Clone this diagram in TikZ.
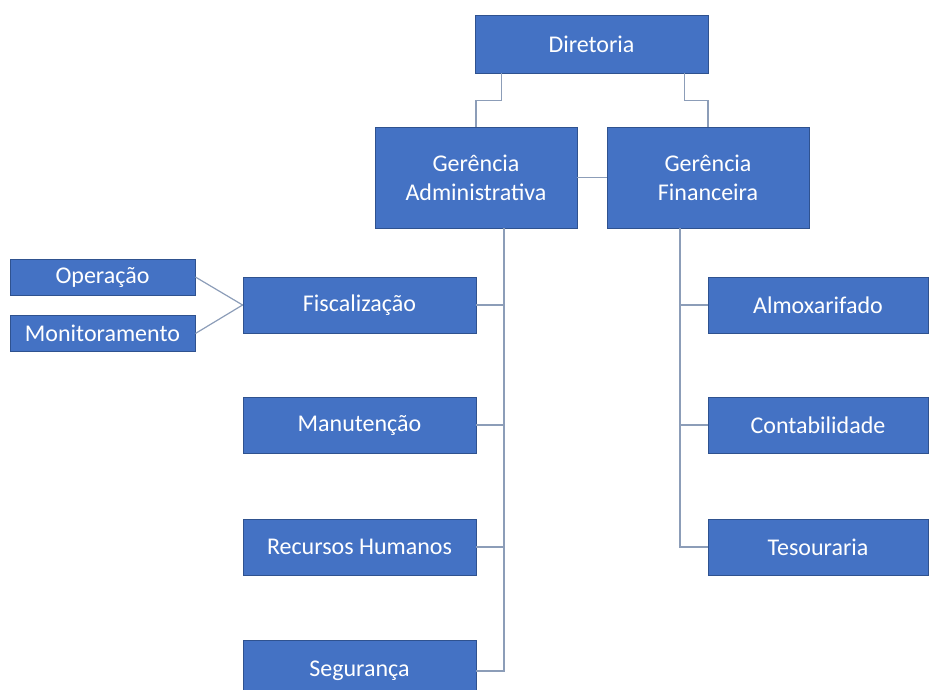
\documentclass[tikz,border=0pt]{standalone}
\usepackage{fontspec}
\setmainfont{Carlito}
\definecolor{boxblue}{HTML}{4472C4}
\definecolor{boxline}{HTML}{2F528F}
\definecolor{linkgray}{HTML}{8C9DB8}
\tikzset{
  unit/.style={draw=boxline, fill=boxblue, text=white, line width=0.8pt,
    inner sep=0pt, align=center, font=\fontsize{24}{29}\selectfont},
  link/.style={draw=linkgray, line width=1.2pt}
}
\begin{document}
\begin{tikzpicture}[x=1pt,y=-1pt]
\useasboundingbox (0,0) rectangle (929,690);
\pgfmathsetmacro{\wl}{233}
\pgfmathsetmacro{\hl}{56}
% top levels
\node[unit, minimum width=233, minimum height=58] (dir) at (591.5,44) {Diretoria};
\node[unit, minimum width=202, minimum height=101] (gadm) at (476,177.5) {Ger\^encia\\Administrativa};
\node[unit, minimum width=202, minimum height=101] (gfin) at (708,177.5) {Ger\^encia\\Financeira};
% administrativa
\node[unit, minimum width=\wl, minimum height=\hl] (fisc) at (359.5,305) {Fiscaliza\c{c}\~ao};
\node[unit, minimum width=\wl, minimum height=\hl] (manu) at (359.5,425) {Manuten\c{c}\~ao};
\node[unit, minimum width=\wl, minimum height=\hl] (rh) at (359.5,547) {Recursos Humanos};
\node[unit, minimum width=\wl, minimum height=62] (seg) at (359.5,671) {Seguran\c{c}a};
\node[unit, minimum width=185, minimum height=36] (op) at (102.5,277) {Opera\c{c}\~ao};
\node[unit, minimum width=185, minimum height=36] (mon) at (102.5,333.5) {Monitoramento};
% financeira
\node[unit, minimum width=220, minimum height=\hl] (almox) at (818,305) {Almoxarifado};
\node[unit, minimum width=220, minimum height=\hl] (cont) at (818,425) {Contabilidade};
\node[unit, minimum width=220, minimum height=\hl] (tes) at (818,547) {Tesouraria};
% connectors
\draw[link] ([xshift=27pt]dir.south west) -- ++(0,27) -| (gadm.north);
\draw[link] ([xshift=-24pt]dir.south east) -- ++(0,27) -| (gfin.north);
\draw[link] (gadm.east) -- (gfin.west);
\coordinate (admspine) at ([xshift=28pt]gadm.south);
\coordinate (finspine) at ([xshift=-28pt]gfin.south);
\draw[link] (admspine) |- (seg.east);
\foreach \n in {fisc,manu,rh}
  \draw[link] (\n.east) -- (\n.east -| admspine);
\draw[link] (finspine) |- (tes.west);
\foreach \n in {almox,cont}
  \draw[link] (\n.west) -- (\n.west -| finspine);
\draw[link] (op.east) -- (fisc.west);
\draw[link] (mon.east) -- (fisc.west);
\end{tikzpicture}
\end{document}
